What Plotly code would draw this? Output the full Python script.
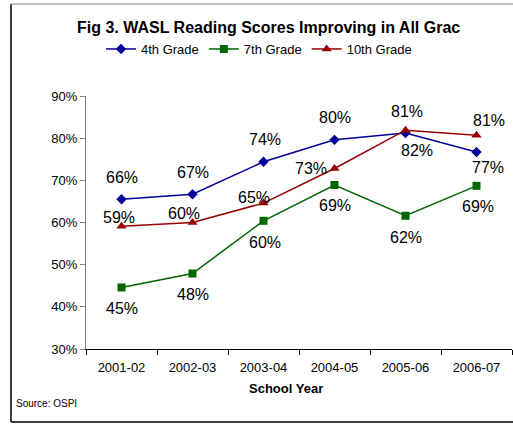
import plotly.graph_objects as go

years = ["2001-02", "2002-03", "2003-04", "2004-05", "2005-06", "2006-07"]
grade4 = [65.5, 66.7, 74.4, 79.6, 81.2, 76.7]
grade7 = [44.6, 47.9, 60.4, 68.9, 61.6, 68.7]
grade10 = [59.1, 60.0, 64.6, 72.8, 81.9, 80.7]
y_ticks = [30, 40, 50, 60, 70, 80, 90]

FONT = "Arial, Liberation Sans, sans-serif"

series = [
    ("4th Grade", grade4, "#000099", "diamond", 8,
     [(0, 22), (0, 22), (1, 22), (0, 22), (1, 22), (11, -15)]),
    ("7th Grade", grade7, "#006600", "square", 8,
     [(0, -21), (0, -21), (1, -22), (0, -21), (0, -22), (1, -21)]),
    ("10th Grade", grade10, "#990000", "triangle-up", 9,
     [(-3, 9), (-9, 9), (-10, 6), (-24, 0), (11, -20), (12, 15)]),
]

fig = go.Figure()
annotations = []
for name, vals, color, sym, size, shifts in series:
    fig.add_trace(go.Scatter(
        x=years, y=vals, name=name, mode="lines+markers",
        line=dict(color=color, width=1.5),
        marker=dict(symbol=sym, size=size, color=color),
    ))
    for xv, yv, (dx, dy) in zip(years, vals, shifts):
        annotations.append(dict(
            x=xv, y=yv, xref="x", yref="y", text=f"{round(yv)}%",
            showarrow=False, xshift=dx, yshift=dy,
            xanchor="center", yanchor="middle",
            font=dict(family=FONT, size=16, color="#000000"),
        ))

L, R, T, B = 86, 1, 96, 75
W, H = 513, 424
pw, ph = W - L - R, H - T - B

def px(x):
    return (x - L) / pw

def py(y):
    return (H - B - y) / ph

annotations += [
    dict(x=px(268), y=py(27), xref="paper", yref="paper",
         xanchor="center", yanchor="middle",
         text="<b>Fig 3. WASL Reading Scores Improving in All Grac</b>",
         showarrow=False, font=dict(family=FONT, size=16, color="#000000")),
    dict(x=px(286), y=py(388), xref="paper", yref="paper",
         xanchor="center", yanchor="middle",
         text="<b>School Year</b>", showarrow=False,
         font=dict(family=FONT, size=13, color="#000000")),
    dict(x=px(14), y=py(403), xref="paper", yref="paper",
         xanchor="left", yanchor="middle",
         text="Source: OSPI", showarrow=False,
         font=dict(family=FONT, size=10, color="#000000")),
]

shapes = [
    dict(type="line", xref="paper", yref="paper", x0=px(11), x1=px(11),
         y0=py(4), y1=py(422), line=dict(color="#000000", width=1.5)),
    dict(type="line", xref="paper", yref="paper", x0=px(11), x1=px(513),
         y0=py(422), y1=py(422), line=dict(color="#000000", width=1.5)),
    dict(type="line", xref="paper", yref="paper", x0=px(11), x1=px(513),
         y0=py(4), y1=py(4), line=dict(color="#808080", width=1)),
]

fig.update_layout(
    width=W, height=H,
    margin=dict(l=L, r=R, t=T, b=B, autoexpand=False),
    paper_bgcolor="white", plot_bgcolor="white",
    font=dict(family=FONT, size=13, color="#000000"),
    showlegend=True,
    legend=dict(orientation="h", x=px(259), y=py(49), xanchor="center",
                yanchor="middle", font=dict(family=FONT, size=13),
                itemwidth=30, tracegroupgap=0, bgcolor="rgba(0,0,0,0)"),
    xaxis=dict(type="category", range=[-0.5, 5.5], showgrid=False,
               showline=True, linecolor="#000000", linewidth=1,
               ticks="outside", ticklen=5, tickcolor="#000000",
               tickson="boundaries", tickfont=dict(size=13),
               ticklabelstandoff=6, automargin=False),
    yaxis=dict(range=[30, 90], tickvals=y_ticks,
               ticktext=[f"{v}%" for v in y_ticks], showgrid=False,
               showline=True, linecolor="#808080", linewidth=1,
               ticks="outside", ticklen=5, tickcolor="#808080",
               zeroline=False, tickfont=dict(size=13), automargin=False),
    annotations=annotations,
    shapes=shapes,
)

fig.write_html(
    "out.html",
    config={"displayModeBar": False},
    post_script="document.body.style.margin='0';document.body.style.overflow='hidden';",
)
